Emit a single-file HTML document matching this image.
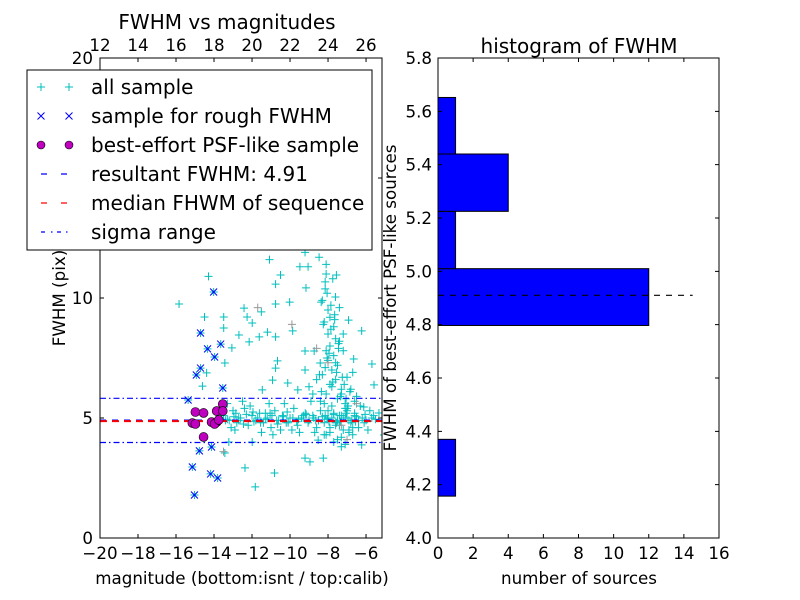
<!DOCTYPE html>
<html><head><meta charset="utf-8"><style>
body{margin:0;background:#fff}
svg{display:block;font-family:"DejaVu Sans","Liberation Sans",sans-serif}
</style></head><body>
<svg id="fig" width="800" height="600" viewBox="0 0 800 600">
<rect width="800" height="600" fill="#fff"/>
<g id="left"></g>
<g id="right"></g>
</svg>
<script>
// ---- data ----
const allMag = [-14.29,-15.84,-11.08,-9.21,-8.47,-9.05,-9.48,-8.1,-10.5,-10.76,-9.16,-7.56,-8.15,-8.15,-7.61,-8.36,-10.76,-10.02,-12.42,-11.51,-12.26,-13.49,-14.5,-11.99,-13.49,-12.69,-12.15,-11.62,-11.19,-10.76,-9.86,-6.23,-6.92,-13.06,-13.43,-10.66,-10.76,-9.21,-8.73,-8.41,-6.65,-5.69,-9.21,-10.12,-10.92,-11.46,-9.59,-5.58,-6.12,-5.32,-5.05,-6.23,-8.52,-9.21,-8.25,-8.95,-10.82,-12.37,-11.83,-11.99,-13.43,-13.22,-14.61,-14.39,
-8.0,-7.9,-8.2,-7.7,-8.0,-7.6,-7.9,-8.1,-7.7,-8.0,-7.5,-7.8,-8.3,-7.6,-7.9,-7.3,-8.1,-7.5,-7.0,-7.2,-7.1,-8.4,-7.4,-8.3,-7.2,-6.8,-7.0,-6.5,-6.7,-8.6,-8.8,-9.0,
-13.5,-13.2,-13.0,-12.8,-12.6,-12.4,-12.2,-12.0,-11.8,-11.6,-11.4,-11.2,-11.0,-10.8,-10.6,-10.4,-10.2,-10.0,-9.8,-9.6,-9.4,-9.2,-9.0,-8.8,-8.6,-8.4,-8.2,-8.0,-7.8,-7.6,-7.4,-7.2,-7.0,-6.8,-6.6,-6.4,-6.2,-6.0,-5.8,-12.9,-11.5,-10.3,-9.5,-8.9,-8.1,-7.3,-6.9,-12.5,-11.1,-10.9,-13.3,-9.9,-8.7,-7.9,-6.7,-6.3,-5.9,-13.1,-12.1,-10.5,
-7.7,-7.5,-7.8,-7.3,-7.6,-8.0,-7.4,-7.2,-6.9,-7.1,-6.6,-8.5,-9.3,-10.1,-11.3,-12.7,-13.4,-6.4,-5.6,-7.95,
-8.05,-7.85,-7.65,-8.25,-7.45,-7.95,-8.15,-7.55,-7.75,-8.35,-7.35,-7.15,-8.05,-7.85,-7.65,-7.45,-8.45,-7.25,-6.95,-7.05,-7.75,-8.1,-7.4,-7.6,-7.8,-8.2,-7.3,-7.0,-6.85,-6.6,
-13.3,-12.95,-12.7,-12.3,-11.9,-11.7,-11.3,-10.95,-10.7,-10.35,-10.1,-9.85,-9.55,-9.3,-9.05,-8.75,-8.5,-8.3,-8.05,-7.7,-7.35,-7.1,-6.75,-6.5,-6.1,-5.7,-5.5,-12.85,-12.45,-11.95,-11.55,-11.05,-10.65,-10.15,-9.65,-9.15,-8.65,-8.15,-7.55,-7.05,-6.55,-6.05,
-7.9,-7.5,-7.1,-8.2,-7.7,-6.9,-7.3,-6.7];
const allFwhm = [10.9,9.75,11.6,11.9,11.7,11.3,11.3,11.4,10.96,10.58,10.42,10.96,10.67,10.38,10.04,9.83,9.75,9.83,9.58,9.42,9.21,9.21,9.21,8.96,8.75,8.46,8.17,8.38,8.58,8.38,8.63,8.63,9.08,7.92,7.29,7.38,7.08,7.79,7.79,7.29,7.46,7.25,7.0,6.46,6.58,6.17,6.17,6.38,5.46,5.21,4.29,3.88,4.08,3.33,3.33,3.17,2.71,2.92,2.13,4.0,3.54,4.0,6.33,6.88,
9.5,9.2,9.0,8.8,8.5,8.3,8.0,7.8,7.6,7.4,7.2,7.0,6.8,6.6,6.4,6.2,6.0,5.8,6.7,7.8,5.6,5.7,9.6,9.9,8.5,6.2,5.3,5.9,6.9,6.6,6.0,6.3,
5.1,4.9,5.3,4.8,5.0,5.4,4.7,5.1,4.9,5.2,4.8,5.0,4.6,5.3,4.9,5.1,4.8,5.0,5.4,4.7,5.0,5.2,4.9,5.1,4.6,5.3,4.8,5.0,5.5,4.7,5.1,4.5,5.0,4.8,5.2,4.6,5.0,4.9,5.3,4.5,4.4,5.6,4.4,5.7,4.3,4.2,4.4,5.7,5.6,4.3,5.6,4.5,4.4,4.6,4.3,5.5,4.5,4.6,5.5,4.5,
5.2,4.9,5.0,5.1,4.8,5.3,4.7,5.0,4.9,5.4,5.1,4.9,5.0,4.8,5.2,5.0,4.9,4.9,5.1,4.85,
10.2,9.7,9.3,8.9,8.1,7.7,7.1,6.9,6.5,6.1,5.9,6.4,7.5,8.7,9.1,7.9,6.8,6.7,5.5,5.8,10.8,11.0,8.2,7.3,6.3,5.6,6.0,5.4,6.1,5.7,
4.95,5.05,4.9,5.15,4.85,5.0,4.95,5.1,4.9,5.05,4.85,5.0,4.95,5.1,4.8,5.0,4.9,5.05,4.95,5.15,4.85,5.0,4.9,5.05,4.8,5.0,4.95,5.2,4.75,5.25,4.8,5.2,4.75,5.25,4.85,5.15,4.9,5.1,4.8,5.2,4.85,5.15,
4.4,4.1,3.9,4.3,4.0,4.5,3.8,4.6];
const grayMag = [-11.7,-9.9,-8.0,-7.0,-6.5,-13.5,-8.6,-7.3];
const grayFwhm = [9.6,8.9,7.3,4.1,5.6,3.6,7.9,4.7];
const roughMag = [-14.02,-14.71,-14.34,-13.65,-13.97,-14.71,-14.93,-13.54,-15.36,-14.77,-14.13,-15.14,-14.18,-13.81,-15.03];
const roughFwhm = [10.25,8.54,7.88,8.08,7.54,7.08,6.79,6.25,5.75,3.63,3.79,2.96,2.67,2.5,1.79];
const bestMag = [-14.98,-14.55,-15.14,-14.98,-13.86,-13.54,-13.54,-14.13,-13.86,-13.97,-14.55,-13.75];
const bestFwhm = [5.25,5.21,4.79,4.75,5.29,5.58,5.29,4.83,4.83,4.75,4.21,4.92];
const resultFwhm = 4.91;
const medianFwhm = 4.87;
const sigmaLo = 3.98, sigmaHi = 5.82;
const binEdges = [4.157,4.37,4.583,4.797,5.01,5.225,5.44,5.652];
const binCounts = [1,0,0,12,1,4,1];
const leftXTicks = [-20,-18,-16,-14,-12,-10,-8,-6];
const topXTicks = [12,14,16,18,20,22,24,26];
const leftYTicks = [0,5,10,15,20];
const rightXTicks = [0,2,4,6,8,10,12,14,16];
const rightYTicks = [4.0,4.2,4.4,4.6,4.8,5.0,5.2,5.4,5.6,5.8];

// ---- helpers ----
const NS="http://www.w3.org/2000/svg";
function mk(parent,tag,attrs,text){const e=document.createElementNS(NS,tag);for(const k in attrs)e.setAttribute(k,attrs[k]);if(text!==undefined)e.textContent=text;parent.appendChild(e);return e;}
const L=document.getElementById('left'), R=document.getElementById('right');
const lx0=100,lx1=382,ly0=58,ly1=538, xmin=-20,xmax=-5.16, ymin=0,ymax=20;
const X=v=>lx0+(v-xmin)/(xmax-xmin)*(lx1-lx0);
const Y=v=>ly1-(v-ymin)/(ymax-ymin)*(ly1-ly0);
const fmt=v=>String(v).replace('-','\u2212');

// left panel
const clip=mk(L,'clipPath',{id:'lc'});mk(clip,'rect',{x:lx0,y:ly0,width:lx1-lx0,height:ly1-ly0});
const plot=mk(L,'g',{'clip-path':'url(#lc)'});
function plus(g,x,y,c){const p=mk(g,'path',{d:`M${x-4},${y}h8M${x},${y-4}v8`,stroke:c,'stroke-width':1,fill:'none'});return p;}
for(let i=0;i<allMag.length;i++){const p=plus(plot,X(allMag[i]),Y(allFwhm[i]),'#00bfbf');

}
for(let i=0;i<grayMag.length;i++){const p=plus(plot,X(grayMag[i]),Y(grayFwhm[i]),'#999');

}
for(let i=0;i<roughMag.length;i++){const x=X(roughMag[i]),y=Y(roughFwhm[i]);plus(plot,x,y,'#00bfbf');
const p=mk(plot,'path',{d:`M${x-3.5},${y-3.5}l7,7M${x-3.5},${y+3.5}l7,-7`,stroke:'#0000ff','stroke-width':1});

}
mk(plot,'line',{x1:lx0,x2:lx1,y1:Y(sigmaHi),y2:Y(sigmaHi),stroke:'#0000ff','stroke-dasharray':'6,3,1.5,3','stroke-width':1.2,});
mk(plot,'line',{x1:lx0,x2:lx1,y1:Y(sigmaLo),y2:Y(sigmaLo),stroke:'#0000ff','stroke-dasharray':'6,3,1.5,3','stroke-width':1.2,});
mk(plot,'line',{x1:lx0,x2:lx1,y1:Y(resultFwhm),y2:Y(resultFwhm),stroke:'#0000ff','stroke-dasharray':'6,6','stroke-width':1.2,});
mk(plot,'line',{x1:lx0,x2:lx1,y1:Y(medianFwhm),y2:Y(medianFwhm),stroke:'#ff0000','stroke-dasharray':'7,5','stroke-width':2,});
for(let i=0;i<bestMag.length;i++){const c=mk(plot,'circle',{cx:X(bestMag[i]),cy:Y(bestFwhm[i]),r:4.5,fill:'#bf00bf',stroke:'#000','stroke-width':0.6});

}
mk(L,'rect',{x:lx0,y:ly0,width:lx1-lx0,height:ly1-ly0,fill:'none',stroke:'#000','stroke-width':1,});
leftXTicks.forEach(v=>{const x=X(v);mk(L,'path',{d:`M${x},${ly1}v-4M${x},${ly0}v4`,stroke:'#000'});
const t=mk(L,'text',{x:x,y:ly1+21,'font-size':16.7,'text-anchor':'middle'},fmt(v));

});
topXTicks.forEach(v=>{const x=X(v-32);const t=mk(L,'text',{x:x,y:ly0-7,'font-size':16.7,'text-anchor':'middle'},String(v));

});
leftYTicks.forEach(v=>{const y=Y(v);mk(L,'path',{d:`M${lx0},${y}h4M${lx1},${y}h-4`,stroke:'#000'});
const t=mk(L,'text',{x:lx0-7,y:y+6,'font-size':16.7,'text-anchor':'end'},String(v));

});
mk(L,'text',{x:242,y:584,'font-size':16.7,'text-anchor':'middle',},'magnitude (bottom:isnt / top:calib)');
mk(L,'text',{x:65,y:298,'font-size':16.7,'text-anchor':'middle',transform:'rotate(-90 65 298)',},'FWHM (pix)');
mk(L,'text',{x:227,y:29,'font-size':20,'text-anchor':'middle',},'FWHM vs magnitudes');

// legend
const lg=mk(L,'g',{});
mk(lg,'rect',{x:27,y:70,width:345,height:180,fill:'#fff',stroke:'#000','stroke-width':1});
const items=['all sample','sample for rough FWHM','best-effort PSF-like sample','resultant FWHM: 4.91','median FHWM of sequence','sigma range'];
items.forEach((s,i)=>{const y=87+i*29;const g=mk(lg,'g',{});


if(i==0){plus(g,41,y,'#00bfbf');plus(g,69,y,'#00bfbf');}
if(i==1){[41,69].forEach(x=>mk(g,'path',{d:`M${x-3.5},${y-3.5}l7,7M${x-3.5},${y+3.5}l7,-7`,stroke:'#0000ff'}));}
if(i==2){[41,69].forEach(x=>mk(g,'circle',{cx:x,cy:y,r:4,fill:'#bf00bf',stroke:'#000','stroke-width':0.6}));}
if(i==3)mk(g,'path',{d:`M41,${y}h6M61,${y}h6`,stroke:'#0000ff','stroke-width':1.2});
if(i==4)mk(g,'path',{d:`M41,${y}h6M61,${y}h6`,stroke:'#ff0000','stroke-width':1.2});
if(i==5)mk(g,'path',{d:`M41,${y}h4M51,${y}h1.5M57,${y}h4M66,${y}h1.5`,stroke:'#0000ff','stroke-width':1.2});
mk(g,'text',{x:91,y:y+7,'font-size':20},s);});

// right panel
const rx0=438,rx1=719,ry0=58,ry1=538;
const HX=v=>rx0+v/16*(rx1-rx0);
const HY=v=>ry1-(v-4.0)/1.8*(ry1-ry0);
for(let i=0;i<binCounts.length;i++){if(!binCounts[i])continue;
const y1=HY(binEdges[i+1]),y2=HY(binEdges[i]);
const b=mk(R,'rect',{x:rx0,y:y1,width:HX(binCounts[i])-rx0,height:y2-y1,fill:'#0000ff',stroke:'#000','stroke-width':1});

}
mk(R,'line',{x1:rx0,x2:HX(14.5),y1:HY(resultFwhm),y2:HY(resultFwhm),stroke:'#000','stroke-dasharray':'6,6','stroke-width':1.2,});
mk(R,'rect',{x:rx0,y:ry0,width:rx1-rx0,height:ry1-ry0,fill:'none',stroke:'#000',});
rightXTicks.forEach(v=>{const x=HX(v);mk(R,'path',{d:`M${x},${ry1}v-4M${x},${ry0}v4`,stroke:'#000'});
const t=mk(R,'text',{x:x,y:ry1+21,'font-size':16.7,'text-anchor':'middle'},String(v));

});
rightYTicks.forEach(v=>{const y=HY(v);mk(R,'path',{d:`M${rx0},${y}h4M${rx1},${y}h-4`,stroke:'#000'});
const t=mk(R,'text',{x:rx0-6,y:y+6,'font-size':16.7,'text-anchor':'end'},v.toFixed(1));

});
mk(R,'text',{x:579,y:584,'font-size':16.7,'text-anchor':'middle',},'number of sources');
mk(R,'text',{x:396,y:298,'font-size':16.7,'text-anchor':'middle',transform:'rotate(-90 396 298)',},'FWHM of best-effort PSF-like sources');
mk(R,'text',{x:579,y:53,'font-size':20,'text-anchor':'middle',},'histogram of FWHM');
</script>
</body></html>
